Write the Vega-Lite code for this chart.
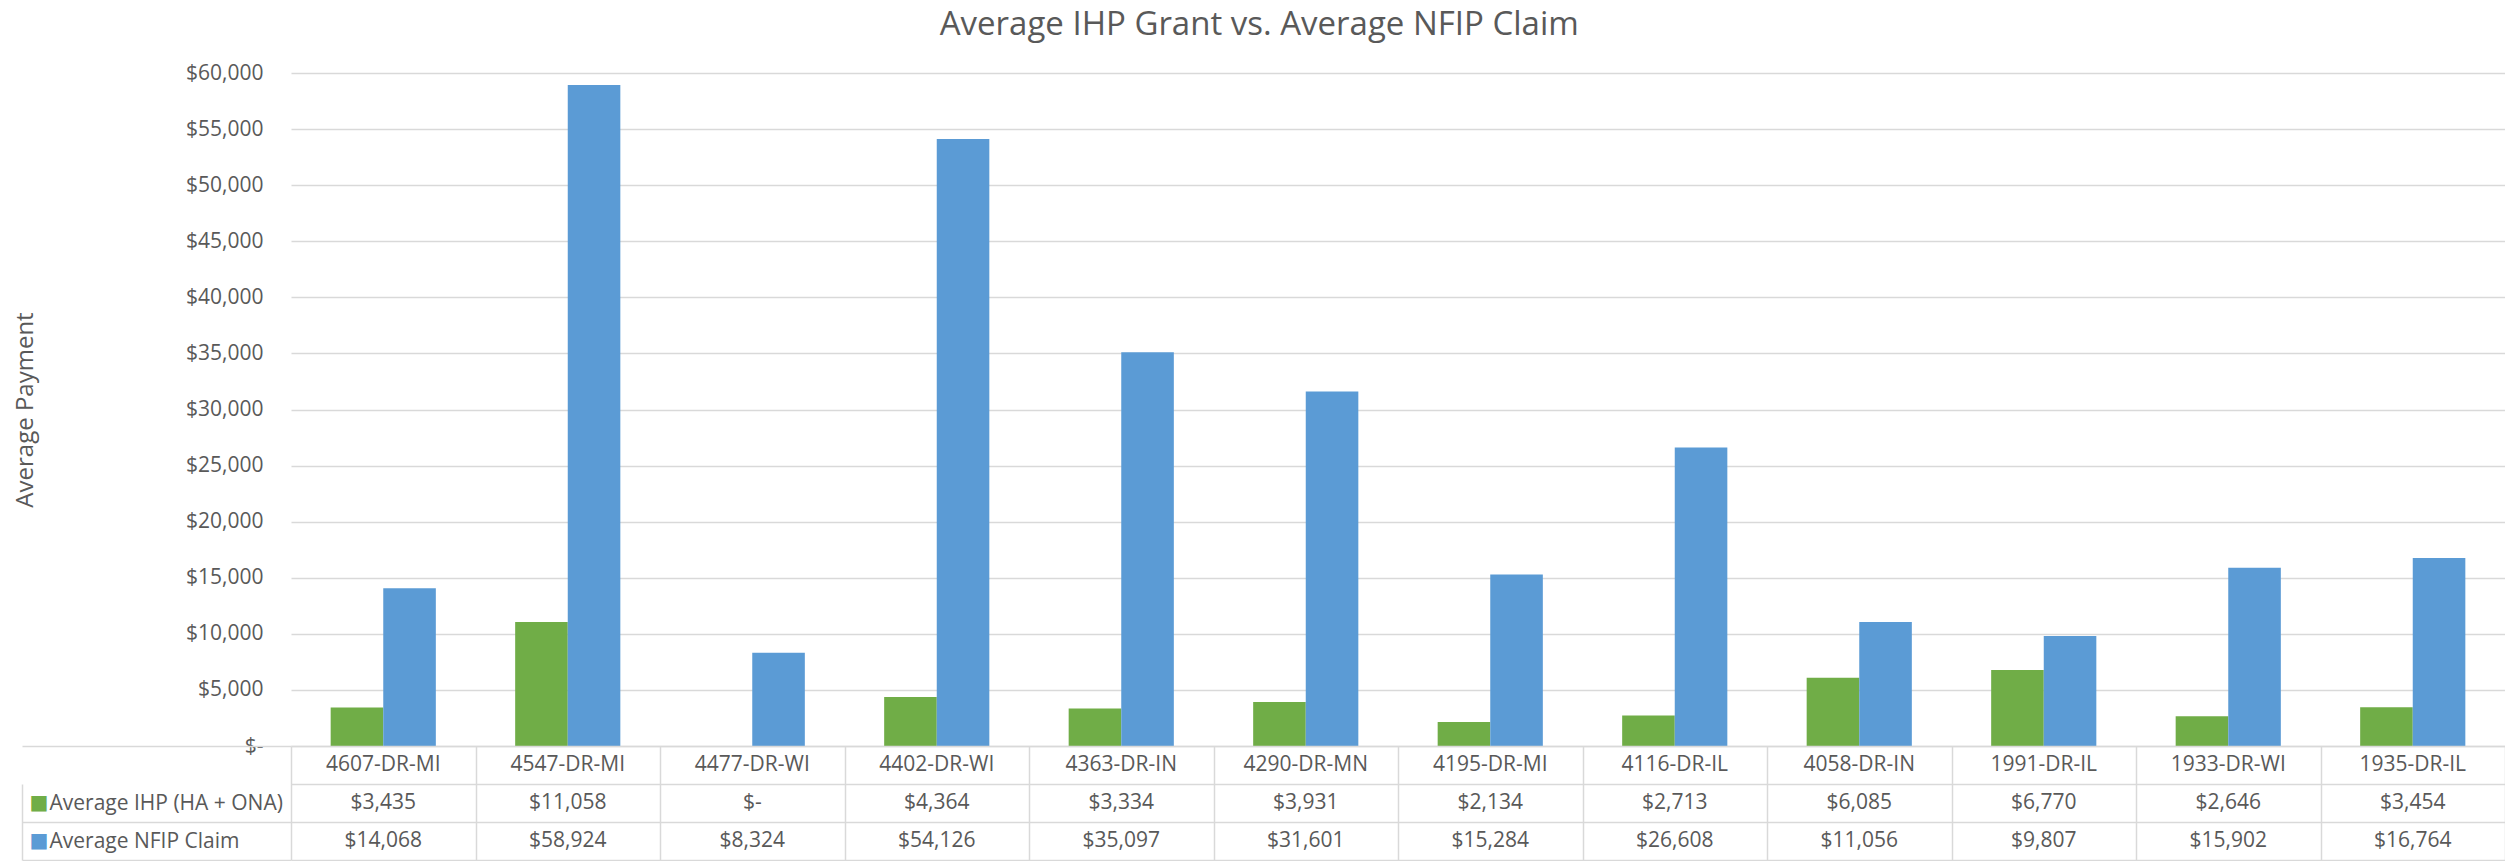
{
  "$schema": "https://vega.github.io/schema/vega-lite/v6.json",
  "background": "white",
  "padding": {"left": 13, "top": 9, "right": 0, "bottom": 0},
  "title": {"text": "Average IHP Grant vs. Average NFIP Claim", "font": "Open Sans", "fontSize": 33, "fontWeight": "normal", "color": "#595959", "anchor": "middle", "frame": "bounds", "offset": 20},
  "datasets": {
    "d": [
      {"category": "4607-DR-MI", "series": "Average IHP (HA + ONA)", "value": 3435},
      {"category": "4607-DR-MI", "series": "Average NFIP Claim", "value": 14068},
      {"category": "4547-DR-MI", "series": "Average IHP (HA + ONA)", "value": 11058},
      {"category": "4547-DR-MI", "series": "Average NFIP Claim", "value": 58924},
      {"category": "4477-DR-WI", "series": "Average IHP (HA + ONA)", "value": 0},
      {"category": "4477-DR-WI", "series": "Average NFIP Claim", "value": 8324},
      {"category": "4402-DR-WI", "series": "Average IHP (HA + ONA)", "value": 4364},
      {"category": "4402-DR-WI", "series": "Average NFIP Claim", "value": 54126},
      {"category": "4363-DR-IN", "series": "Average IHP (HA + ONA)", "value": 3334},
      {"category": "4363-DR-IN", "series": "Average NFIP Claim", "value": 35097},
      {"category": "4290-DR-MN", "series": "Average IHP (HA + ONA)", "value": 3931},
      {"category": "4290-DR-MN", "series": "Average NFIP Claim", "value": 31601},
      {"category": "4195-DR-MI", "series": "Average IHP (HA + ONA)", "value": 2134},
      {"category": "4195-DR-MI", "series": "Average NFIP Claim", "value": 15284},
      {"category": "4116-DR-IL", "series": "Average IHP (HA + ONA)", "value": 2713},
      {"category": "4116-DR-IL", "series": "Average NFIP Claim", "value": 26608},
      {"category": "4058-DR-IN", "series": "Average IHP (HA + ONA)", "value": 6085},
      {"category": "4058-DR-IN", "series": "Average NFIP Claim", "value": 11056},
      {"category": "1991-DR-IL", "series": "Average IHP (HA + ONA)", "value": 6770},
      {"category": "1991-DR-IL", "series": "Average NFIP Claim", "value": 9807},
      {"category": "1933-DR-WI", "series": "Average IHP (HA + ONA)", "value": 2646},
      {"category": "1933-DR-WI", "series": "Average NFIP Claim", "value": 15902},
      {"category": "1935-DR-IL", "series": "Average IHP (HA + ONA)", "value": 3454},
      {"category": "1935-DR-IL", "series": "Average NFIP Claim", "value": 16764}
    ]
  },
  "spacing": 0,
  "bounds": "flush",
  "vconcat": [
    {
      "width": 2214,
      "height": 673,
      "data": {"name": "d"},
      "mark": {"type": "bar"},
      "encoding": {
        "x": {
          "field": "category", "type": "nominal", "sort": null,
          "scale": {"paddingInner": 0.43, "paddingOuter": 0.215},
          "axis": null
        },
        "xOffset": {"field": "series", "type": "nominal", "sort": ["Average IHP (HA + ONA)", "Average NFIP Claim"], "scale": {"paddingInner": 0, "paddingOuter": 0}},
        "y": {
          "field": "value", "type": "quantitative",
          "scale": {"domain": [0, 60000], "nice": false},
          "axis": {"title": "Average Payment", "values": [0, 5000, 10000, 15000, 20000, 25000, 30000, 35000, 40000, 45000, 50000, 55000, 60000], "labelExpr": "datum.value === 0 ? '$-\u00a0\u00a0' : format(datum.value, '$,')", "grid": true, "gridColor": "#d9d9d9", "gridWidth": 1.5, "ticks": false, "domain": false, "labelPadding": 28, "labelFont": "Open Sans", "labelFontSize": 21, "labelColor": "#595959", "titleFont": "Open Sans", "titleFontSize": 24, "titleFontWeight": "normal", "titleColor": "#595959", "titlePadding": 148}
        },
        "color": {"field": "series", "type": "nominal", "scale": {"domain": ["Average IHP (HA + ONA)", "Average NFIP Claim"], "range": ["#70AD47", "#5B9BD5"]}, "legend": null}
      }
    },
    {
      "width": 2214,
      "height": 114,
      "data": {"name": "d"},
      "resolve": {"axis": {"y": "independent"}, "scale": {"y": "shared"}},
      "layer": [
        {
          "mark": {"type": "text", "font": "Open Sans", "fontSize": 21, "color": "#595959", "baseline": "middle", "align": "center"},
          "encoding": {
            "x": {
              "field": "category", "type": "nominal", "sort": null,
              "scale": {"type": "band", "paddingInner": 0, "paddingOuter": 0},
              "axis": {"title": null, "grid": true, "gridColor": "#d9d9d9", "gridWidth": 1.5, "tickBand": "extent", "ticks": false, "labels": false, "domain": false}
            },
            "y": {
              "field": "series", "type": "nominal",
              "scale": {"type": "band", "domain": ["cat", "Average IHP (HA + ONA)", "Average NFIP Claim"], "paddingInner": 0, "paddingOuter": 0},
              "axis": {"title": null, "orient": "left", "tickBand": "extent", "ticks": true, "tickSize": 269, "tickColor": {"condition": {"test": "datum.value === 'cat'", "value": "transparent"}, "value": "#d9d9d9"}, "tickWidth": 1.5, "grid": true, "gridColor": "#d9d9d9", "gridWidth": 1.5, "domain": false, "labelExpr": "datum.value === 'cat' ? '' : datum.value", "labelAlign": "left", "labelPadding": -27, "labelBaseline": "middle", "labelFont": "Open Sans", "labelFontSize": 21, "labelColor": "#595959", "labelLimit": 0}
            },
            "text": {"condition": {"test": "datum.value === 0", "value": "$-"}, "field": "value", "type": "quantitative", "format": "$,"}
          }
        },
        {
          "transform": [{"filter": "datum.series === 'Average IHP (HA + ONA)'"}],
          "mark": {"type": "text", "font": "Open Sans", "fontSize": 21, "color": "#595959", "baseline": "middle", "align": "center"},
          "encoding": {
            "x": {"field": "category", "type": "nominal", "sort": null},
            "y": {"datum": "cat", "type": "nominal", "axis": null},
            "text": {"field": "category", "type": "nominal"}
          }
        },
        {
          "mark": {"type": "text", "opacity": 0},
          "encoding": {
            "y": {
              "field": "series", "type": "nominal",
              "axis": {"title": null, "orient": "left", "offset": 269, "ticks": false, "grid": false, "domain": true, "domainColor": "#d9d9d9", "domainWidth": 1.5, "domainDash": [0, 38, 76, 0], "labelExpr": "datum.value === 'cat' ? '' : '■'", "labelAlign": "left", "labelPadding": -7, "labelBaseline": "middle", "labelFont": "DejaVu Sans", "labelFontSize": 20, "labelColor": {"condition": {"test": "datum.value === 'Average NFIP Claim'", "value": "#5B9BD5"}, "value": "#70AD47"}}
            },
            "text": {"value": ""}
          }
        }
      ]
    }
  ],
  "config": {"view": {"stroke": null}}
}
